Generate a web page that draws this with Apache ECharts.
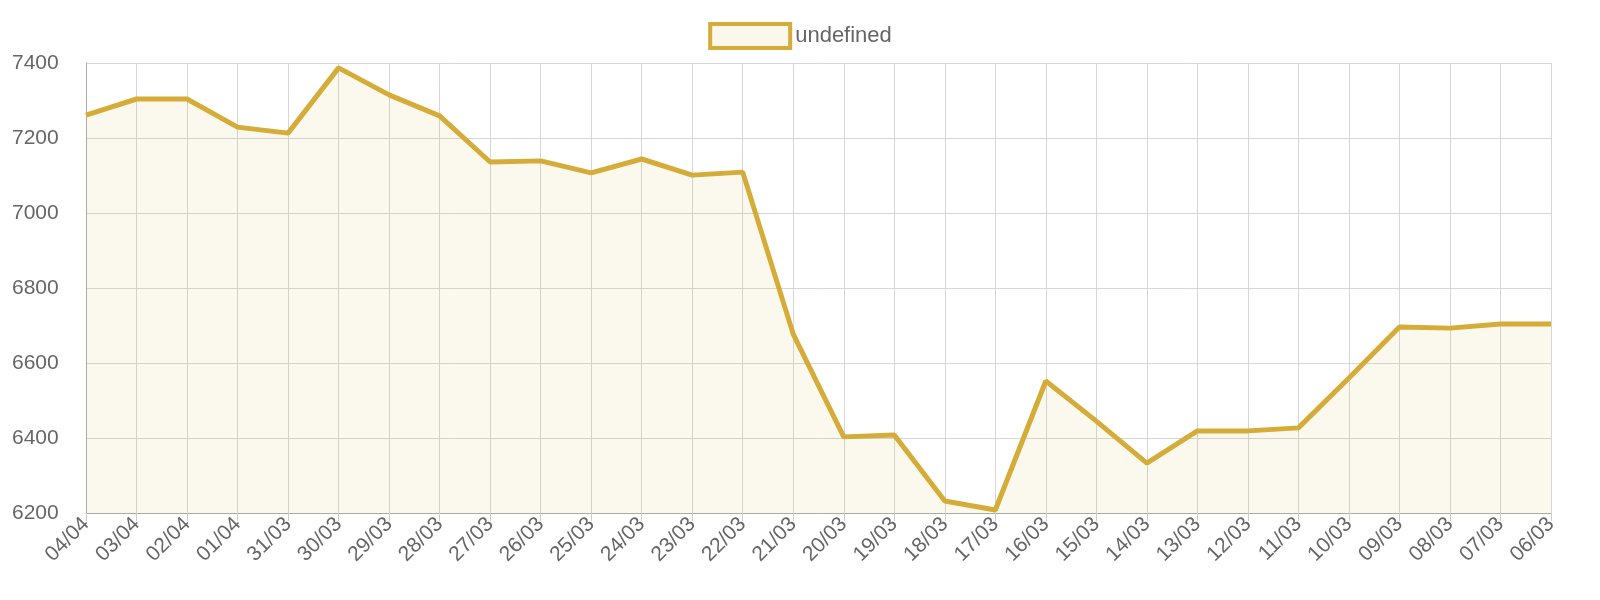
<!DOCTYPE html>
<html><head><meta charset="utf-8">
<script src="https://cdn.jsdelivr.net/npm/echarts@6/dist/echarts.min.js"></script>
<style>html,body{margin:0;background:#fff;overflow:hidden}#c{width:1600px;height:600px}</style>
</head><body><div id="c"></div>
<script>
var categories = ['04/04','03/04','02/04','01/04','31/03','30/03','29/03','28/03','27/03','26/03','25/03','24/03','23/03','22/03','21/03','20/03','19/03','18/03','17/03','16/03','15/03','14/03','13/03','12/03','11/03','10/03','09/03','08/03','07/03','06/03'];
var values = [7261,7304,7304,7229,7213,7387,7315,7259,7136,7139,7107,7144,7101,7109,6677,6403,6408,6232,6208,6552,6445,6333,6419,6419,6427,6560,6696,6693,6704,6704];
var seriesName = 'undefined';
var lineColor = '#d4ac37';

var chart = echarts.init(document.getElementById('c'));
chart.setOption({
	animation: false,
	legend: {
		top: 17, left: 'center',
		itemWidth: 80, itemHeight: 24, itemGap: 10,
		icon: 'rect',
		textStyle: {color: '#666', fontSize: 22, fontFamily: 'Liberation Sans'},
		data: [{name: seriesName, itemStyle: {color: 'rgba(212,172,55,0.1)', borderColor: lineColor, borderWidth: 4}}]
	},
	grid: {left: 86, right: 49, top: 63, bottom: 87, outerBoundsMode: 'none', containLabel: false},
	xAxis: {
		type: 'category', data: categories, boundaryGap: false,
		axisLine: {lineStyle: {color: '#aaa'}},
		axisTick: {show: true, length: 8, lineStyle: {color: '#ccc'}},
		axisLabel: {rotate: 45, color: '#666', fontSize: 21, fontFamily: 'Liberation Sans', interval: 0, margin: 8},
		splitLine: {show: true, lineStyle: {color: '#d6d6d6'}}
	},
	yAxis: {
		type: 'value', min: 6200, max: 7400, interval: 200,
		axisLine: {show: true, lineStyle: {color: '#aaa'}},
		axisLabel: {color: '#666', fontSize: 21, fontFamily: 'Liberation Sans', margin: 74, align: 'left',
			formatter: function (v) { return String(v); }},
		splitLine: {lineStyle: {color: '#d6d6d6'}}
	},
	series: [{
		name: seriesName, type: 'line', data: values,
		symbol: 'none',
		lineStyle: {color: lineColor, width: 5},
		itemStyle: {color: lineColor},
		areaStyle: {color: 'rgba(212,172,55,0.12)'}
	}]
});
</script></body></html>
